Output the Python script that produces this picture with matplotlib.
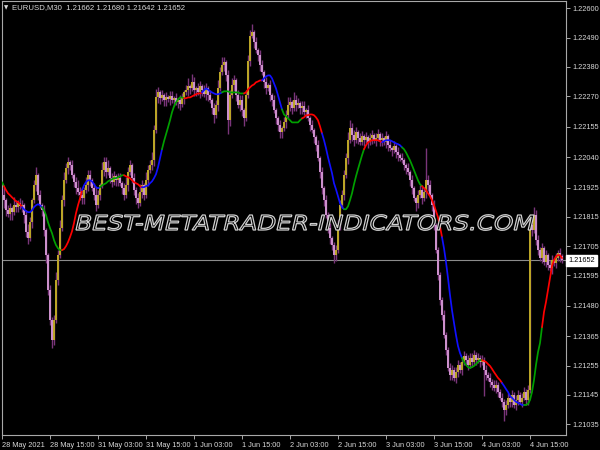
import matplotlib
matplotlib.use("Agg")
import matplotlib.pyplot as plt
import numpy as np
from matplotlib.textpath import TextPath
from matplotlib.patches import PathPatch
from matplotlib.font_manager import FontProperties
from matplotlib.transforms import Affine2D, blended_transform_factory

# ---------------- data ----------------
title_text = "EURUSD,M30  1.21662 1.21680 1.21642 1.21652"
watermark = "BEST-METATRADER-INDICATORS.COM"

x_labels = ["28 May 2021", "28 May 15:00", "31 May 03:00", "31 May 15:00",
            "1 Jun 03:00", "1 Jun 15:00", "2 Jun 03:00", "2 Jun 15:00",
            "3 Jun 03:00", "3 Jun 15:00", "4 Jun 03:00", "4 Jun 15:00"]
x_label_bars = [0, 24, 48, 72, 96, 120, 144, 168, 192, 216, 240, 264]

y_tick_values = [1.22600, 1.22490, 1.22380, 1.22270, 1.22155, 1.22040, 1.21925,
                 1.21815, 1.21705, 1.21595, 1.21480, 1.21365, 1.21255, 1.21145, 1.21035]
y_tick_labels = ["1.22600", "1.22490", "1.22380", "1.22270", "1.22155", "1.22040", "1.21925",
                 "1.21815", "1.21705", "1.21595", "1.21480", "1.21365", "1.21255", "1.21145", "1.21035"]

last_price = 1.21652
first_open = 1.21920

closes = [
    1.21897, 1.21878, 1.21840, 1.21825, 1.21848, 1.21833, 1.21859, 1.21852, 1.21867, 1.21855,
    1.21859, 1.21822, 1.21758, 1.21735, 1.21795, 1.21878, 1.21934, 1.21972, 1.21897, 1.21859,
    1.21840, 1.21765, 1.21671, 1.21540, 1.21427, 1.21352, 1.21427, 1.21577, 1.21671, 1.21773,
    1.21878, 1.21953, 1.21998, 1.22021, 1.22010, 1.21972, 1.21946, 1.21923, 1.21908, 1.21897,
    1.21885, 1.21916, 1.21934, 1.21972, 1.21953, 1.21923, 1.21897, 1.21859, 1.21897, 1.21934,
    1.21991, 1.22021, 1.21983, 1.21998, 1.21961, 1.21946, 1.21968, 1.21953, 1.21961, 1.21942,
    1.21923, 1.21897, 1.21934, 1.21983, 1.22010, 1.21961, 1.21916, 1.21885, 1.21867, 1.21908,
    1.21934, 1.21897, 1.21953, 1.21991, 1.22010, 1.22028, 1.22141, 1.22265, 1.22284, 1.22262,
    1.22273, 1.22254, 1.22265, 1.22258, 1.22269, 1.22254, 1.22262, 1.22246, 1.22254, 1.22239,
    1.22262, 1.22284, 1.22292, 1.22307, 1.22299, 1.22322, 1.22292, 1.22299, 1.22284, 1.22307,
    1.22292, 1.22277, 1.22299, 1.22273, 1.22254, 1.22224, 1.22198, 1.22235, 1.22299, 1.22359,
    1.22386, 1.22397, 1.22348, 1.22179, 1.22273, 1.22310, 1.22329, 1.22273, 1.22235, 1.22254,
    1.22216, 1.22186, 1.22273, 1.22404, 1.22498, 1.22510, 1.22472, 1.22442, 1.22423, 1.22386,
    1.22359, 1.22322, 1.22299, 1.22310, 1.22273, 1.22254, 1.22216, 1.22186, 1.22160, 1.22134,
    1.22149, 1.22171, 1.22198, 1.22235, 1.22246, 1.22224, 1.22254, 1.22235, 1.22243, 1.22224,
    1.22231, 1.22209, 1.22216, 1.22186, 1.22160, 1.22141, 1.22115, 1.22085, 1.22036, 1.21983,
    1.21923, 1.21878, 1.21822, 1.21773, 1.21735, 1.21709, 1.21671, 1.21690, 1.21784, 1.21859,
    1.21897, 1.21972, 1.22036, 1.22104, 1.22149, 1.22122, 1.22104, 1.22134, 1.22111, 1.22096,
    1.22119, 1.22104, 1.22115, 1.22096, 1.22111, 1.22122, 1.22104, 1.22111, 1.22126, 1.22104,
    1.22111, 1.22096, 1.22119, 1.22085, 1.22074, 1.22066, 1.22081, 1.22058, 1.22047, 1.22036,
    1.22028, 1.22010, 1.21998, 1.21983, 1.21953, 1.21923, 1.21885, 1.21867, 1.21897, 1.21916,
    1.21885, 1.21908, 1.21953, 1.21934, 1.21897, 1.21859, 1.21784, 1.21690, 1.21596, 1.21502,
    1.21446, 1.21370, 1.21314, 1.21246, 1.21220, 1.21239, 1.21209, 1.21231, 1.21258, 1.21239,
    1.21269, 1.21291, 1.21276, 1.21258, 1.21284, 1.21269, 1.21295, 1.21276, 1.21284, 1.21269,
    1.21276, 1.21239, 1.21220, 1.21209, 1.21194, 1.21182, 1.21171, 1.21182, 1.21156, 1.21134,
    1.21119, 1.21088, 1.21107, 1.21134, 1.21119, 1.21145, 1.21107, 1.21126, 1.21145, 1.21119,
    1.21134, 1.21156, 1.21126, 1.21164, 1.21784, 1.21765, 1.21822, 1.21728, 1.21690, 1.21660,
    1.21697, 1.21645, 1.21671, 1.21634, 1.21622, 1.21652, 1.21641, 1.21660, 1.21679, 1.21667,
    1.21652]

# upper / lower shadows in pips
wick_up = [
    2, 3, 1, 2, 2, 1, 3, 2, 1, 2,   2, 1, 2, 3, 2, 1, 2, 3, 1, 2,
    1, 2, 1, 1, 2, 1, 2, 3, 2, 3,   2, 3, 2, 2, 1, 2, 1, 2, 3, 2,
    2, 1, 3, 2, 2, 1, 2, 3, 2, 1,   3, 2, 2, 3, 1, 2, 2, 1, 2, 2,
    1, 2, 3, 2, 2, 1, 2, 1, 2, 3,   2, 1, 3, 2, 2, 3, 2, 3, 2, 1,
    2, 1, 2, 1, 2, 2, 1, 2, 1, 2,   2, 1, 2, 3, 1, 3, 2, 1, 2, 2,
    1, 2, 2, 1, 2, 1, 2, 2, 3, 2,   3, 2, 1, 2, 2, 3, 2, 1, 2, 2,
    2, 1, 2, 2, 2, 3, 1, 2, 1, 2,   2, 1, 2, 1, 2, 1, 2, 1, 1, 2,
    1, 2, 2, 3, 2, 1, 3, 2, 2, 1,   2, 2, 1, 2, 1, 2, 1, 1, 2, 1,
    2, 1, 2, 1, 2, 1, 1, 2, 2, 2,   2, 2, 2, 3, 3, 2, 2, 2, 1, 2,
    2, 1, 2, 1, 2, 2, 1, 2, 2, 1,   2, 1, 2, 1, 2, 1, 2, 1, 2, 1,
    2, 1, 1, 2, 1, 2, 1, 1, 2, 2,   2, 2, 12, 2, 2, 1, 2, 1, 1, 1,
    1, 2, 1, 1, 2, 2, 1, 2, 2, 1,   2, 2, 1, 2, 2, 2, 2, 1, 2, 1,
    2, 1, 2, 1, 2, 1, 2, 2, 1, 1,   2, 1, 2, 2, 1, 2, 1, 2, 2, 1,
    2, 2, 1, 2, 2, 2, 3, 2, 2, 1,   2, 1, 2, 1, 2, 2, 1, 2, 1, 2,
    1]
wick_dn = [
    2, 3, 2, 1, 2, 3, 1, 2, 2, 1,   2, 3, 2, 2, 1, 2, 1, 2, 2, 1,
    2, 2, 3, 2, 2, 3, 2, 1, 2, 1,   1, 2, 1, 2, 2, 1, 2, 2, 1, 2,
    2, 2, 1, 2, 2, 1, 2, 2, 1, 2,   1, 2, 2, 1, 2, 2, 1, 2, 2, 1,
    2, 2, 1, 2, 1, 2, 2, 2, 2, 1,   2, 2, 1, 2, 1, 2, 2, 1, 2, 2,
    1, 2, 2, 1, 2, 1, 2, 1, 2, 2,   1, 2, 1, 2, 2, 1, 2, 2, 1, 2,
    2, 1, 2, 2, 1, 2, 3, 1, 2, 1,   1, 2, 2, 5, 2, 1, 2, 2, 1, 2,
    2, 3, 1, 1, 2, 1, 2, 1, 2, 2,   1, 2, 2, 1, 2, 2, 1, 2, 2, 2,
    2, 1, 2, 1, 2, 2, 1, 2, 1, 2,   2, 1, 2, 1, 2, 1, 2, 2, 1, 2,
    2, 2, 1, 2, 2, 2, 3, 2, 1, 2,   1, 2, 1, 2, 1, 2, 2, 1, 2, 1,
    1, 2, 1, 2, 1, 2, 1, 2, 1, 2,   2, 1, 2, 2, 1, 2, 1, 2, 2, 1,
    1, 2, 2, 1, 2, 2, 1, 3, 2, 1,   2, 1, 2, 2, 1, 2, 2, 1, 2, 2,
    2, 1, 2, 1, 2, 2, 1, 2, 2, 1,   2, 1, 2, 2, 1, 2, 1, 2, 1, 2,
    1, 10, 2, 1, 2, 2, 1, 2, 2, 1,  2, 4, 2, 1, 2, 2, 1, 2, 2, 1,
    2, 1, 2, 2, 1, 2, 1, 2, 2, 1,   2, 1, 2, 2, 1, 2, 1, 2, 1, 2,
    1]

ma_values = [
    1.21946, 1.21931, 1.21916, 1.21904, 1.21897, 1.21889, 1.21882, 1.21874, 1.21871, 1.21863,
    1.21852, 1.21844, 1.21837, 1.21833, 1.21833, 1.21840, 1.21852, 1.21859, 1.21863, 1.21859,
    1.21852, 1.21840, 1.21822, 1.21795, 1.21773, 1.21754, 1.21728, 1.21709, 1.21697, 1.21690,
    1.21690, 1.21694, 1.21705, 1.21720, 1.21739, 1.21761, 1.21792, 1.21829, 1.21859, 1.21885,
    1.21916, 1.21934, 1.21946, 1.21953, 1.21953, 1.21949, 1.21938, 1.21927, 1.21923, 1.21927,
    1.21934, 1.21938, 1.21942, 1.21949, 1.21953, 1.21957, 1.21961, 1.21961, 1.21965, 1.21968,
    1.21972, 1.21972, 1.21968, 1.21965, 1.21961, 1.21953, 1.21946, 1.21942, 1.21938, 1.21931,
    1.21927, 1.21927, 1.21931, 1.21934, 1.21942, 1.21949, 1.21961, 1.21976, 1.22002, 1.22036,
    1.22070, 1.22100, 1.22126, 1.22152, 1.22179, 1.22209, 1.22231, 1.22246, 1.22258, 1.22265,
    1.22265, 1.22262, 1.22262, 1.22265, 1.22265, 1.22269, 1.22273, 1.22277, 1.22280, 1.22280,
    1.22284, 1.22292, 1.22299, 1.22295, 1.22288, 1.22284, 1.22280, 1.22277, 1.22277, 1.22280,
    1.22284, 1.22288, 1.22288, 1.22288, 1.22284, 1.22284, 1.22284, 1.22284, 1.22284, 1.22280,
    1.22280, 1.22280, 1.22284, 1.22295, 1.22303, 1.22310, 1.22314, 1.22322, 1.22325, 1.22329,
    1.22329, 1.22337, 1.22344, 1.22348, 1.22348, 1.22337, 1.22318, 1.22299, 1.22273, 1.22246,
    1.22220, 1.22201, 1.22194, 1.22186, 1.22179, 1.22171, 1.22171, 1.22171, 1.22171, 1.22179,
    1.22186, 1.22190, 1.22198, 1.22198, 1.22201, 1.22201, 1.22198, 1.22190, 1.22179, 1.22156,
    1.22130, 1.22104, 1.22074, 1.22040, 1.22010, 1.21980, 1.21942, 1.21919, 1.21893, 1.21867,
    1.21852, 1.21844, 1.21844, 1.21855, 1.21878, 1.21904, 1.21938, 1.21968, 1.21995, 1.22021,
    1.22047, 1.22070, 1.22085, 1.22096, 1.22100, 1.22104, 1.22104, 1.22104, 1.22104, 1.22100,
    1.22096, 1.22100, 1.22104, 1.22104, 1.22104, 1.22100, 1.22096, 1.22092, 1.22089, 1.22085,
    1.22077, 1.22070, 1.22058, 1.22043, 1.22028, 1.22010, 1.21991, 1.21972, 1.21953, 1.21938,
    1.21931, 1.21923, 1.21916, 1.21904, 1.21893, 1.21878, 1.21859, 1.21837, 1.21814, 1.21780,
    1.21739, 1.21697, 1.21645, 1.21585, 1.21521, 1.21464, 1.21416, 1.21370, 1.21329, 1.21303,
    1.21284, 1.21269, 1.21258, 1.21250, 1.21246, 1.21250, 1.21254, 1.21261, 1.21269, 1.21276,
    1.21276, 1.21273, 1.21269, 1.21261, 1.21254, 1.21243, 1.21231, 1.21220, 1.21209, 1.21201,
    1.21190, 1.21179, 1.21167, 1.21156, 1.21141, 1.21134, 1.21126, 1.21119, 1.21115, 1.21111,
    1.21107, 1.21107, 1.21107, 1.21111, 1.21126, 1.21156, 1.21201, 1.21258, 1.21306, 1.21340,
    1.21400, 1.21457, 1.21495, 1.21540, 1.21585, 1.21630, 1.21652, 1.21667, 1.21671, 1.21671,
    1.21660]

ma_seg_start = [0, 1, 10, 20, 30, 40, 49, 61, 70, 80, 91, 100, 110, 121, 130,
                140, 150, 160, 171, 181, 190, 200, 210, 220, 230, 240, 250, 261, 270]
ma_seg_color = ["#00a000", "#ff0000", "#1010ff"] * 9 + ["#00a000", "#ff0000"]

# ---------------- figure ----------------
W, H = 600, 450
fig = plt.figure(figsize=(6, 4.5), dpi=100, facecolor="black")
ax = fig.add_axes([2 / W, 15 / H, 564 / W, 434.5 / H], facecolor="black")

n = len(closes)
idx = np.arange(n)
c = np.array(closes)
o = np.concatenate([[first_open], c[:-1]])
hi = np.maximum(o, c) + np.array(wick_up) * 0.0001
lo = np.minimum(o, c) - np.array(wick_dn) * 0.0001
up = c >= o

bull_col = "#bba527"
bear_col = "#cc90cc"
wick_col = "#7a357a"

ax.vlines(idx, lo, hi, colors=wick_col, linewidth=1.0, zorder=2)
ax.vlines(idx[up], o[up], c[up], colors=bull_col, linewidth=1.45, zorder=3)
ax.vlines(idx[~up], o[~up], c[~up], colors=bear_col, linewidth=1.45, zorder=3)

ma = np.array(ma_values)
bounds = ma_seg_start + [n - 1]
for k, col in enumerate(ma_seg_color):
    s, e = bounds[k], bounds[k + 1]
    ax.plot(idx[s:e + 1], ma[s:e + 1], color=col, linewidth=1.25, zorder=4,
            solid_capstyle="round")

ax.axhline(last_price, color="#8c8c8c", linewidth=0.8, zorder=1)

ax.set_xlim(0, 282)
ax.set_ylim(1.20994, 1.22630)

for sp in ax.spines.values():
    sp.set_color("#a8a8a8")
    sp.set_linewidth(0.8)

font = "Liberation Sans"
fs = 5.3
lab_col = "#d8d8d8"
ax.yaxis.tick_right()
ax.set_yticks(y_tick_values)
ax.set_yticklabels(y_tick_labels, fontsize=fs, family=font, color=lab_col)
ax.tick_params(axis="y", colors="#a8a8a8", length=3, width=0.7, pad=1.5, labelcolor=lab_col)

ax.set_xticks(x_label_bars)
ax.set_xticklabels(x_labels, fontsize=fs, family=font, color=lab_col)
ax.tick_params(axis="x", colors="#a8a8a8", length=3, width=0.7, pad=2, labelcolor=lab_col)
for t in ax.get_xticklabels():
    t.set_horizontalalignment("left")

# current price label
trans = blended_transform_factory(ax.transAxes, ax.transData)
ax.text(1.004, last_price, "1.21652", transform=trans, ha="left", va="center",
        fontsize=fs, family=font, color="black", zorder=6, clip_on=False,
        bbox=dict(boxstyle="square,pad=0.25", fc="white", ec="white"))

# title
fig.text(4 / W, 1 - 8 / H, "\u25BC", fontsize=4.0, color=lab_col, ha="left", va="center")
fig.text(12 / W, 1 - 8 / H, title_text, fontsize=5.6, family=font, color=lab_col,
         ha="left", va="center")

# watermark as outlined italic text path, stretched to its box
fp = FontProperties(family="DejaVu Sans", style="italic")
tp = TextPath((0, 0), watermark, size=100, prop=fp)
bb = tp.get_extents()
cap = TextPath((0, 0), "B", size=100, prop=fp).get_extents()
target_w, target_h = 458.0, 15.0
sx = target_w / bb.width
sy = target_h / cap.height
x0, y0 = 76.0, H - 230.0
tr = Affine2D().translate(-bb.x0, 0).scale(sx, sy).translate(x0, y0)
patch = PathPatch(tr.transform_path(tp), facecolor="black", edgecolor="#d0d0d0",
                  linewidth=0.9, transform=None, zorder=10)
fig.patches.append(patch)

fig.savefig("out.png", dpi=100, facecolor="black")
